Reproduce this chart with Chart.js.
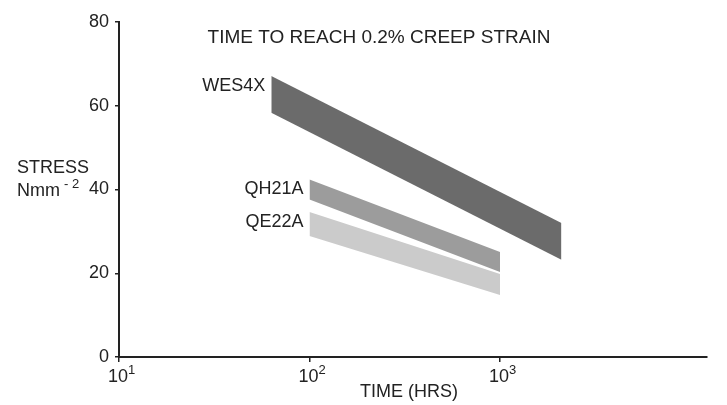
<!DOCTYPE html>
<html>
<head>
<meta charset="utf-8">
<script src="https://cdn.jsdelivr.net/npm/chart.js@4.4.0/dist/chart.umd.min.js"></script>
<style>
    html, body { margin: 0; padding: 0; background: #fff; }
    #wrap { width: 727px; height: 405px; }
</style>
</head>
<body>
<div id="wrap"><canvas id="creepChart" width="727" height="405"></canvas></div>
<script>
// Time (hrs) to reach 0.2% creep strain, band edges (stress, N/mm^2)
const wesTime = [63, 2100];
const wesUpper = [67.1, 32.0];
const wesLower = [58.3, 23.2];

const qhTime = [100, 1000];
const qhUpper = [42.4, 25.1];
const qhLower = [37.6, 20.3];

const qeTime = [100, 1000];
const qeUpper = [34.6, 19.8];
const qeLower = [28.9, 14.8];

const alloyNames = ["WES4X", "QH21A", "QE22A"];
const xTicks = [10, 100, 1000];
const yTicks = [0, 20, 40, 60, 80];

const FONT = "'Liberation Sans', Arial, sans-serif";
const INK = "#222";

function toPoints(xs, ys) {
    return xs.map((x, i) => ({ x: x, y: ys[i] }));
}

function bandPair(name, xs, lower, upper, color) {
    const base = {
        type: "line",
        borderWidth: 0,
        borderColor: color,
        pointRadius: 0,
        tension: 0,
    };
    return [
        Object.assign({}, base, { label: name + " lower", data: toPoints(xs, lower), fill: false }),
        Object.assign({}, base, { label: name, data: toPoints(xs, upper), fill: "-1", backgroundColor: color }),
    ];
}

// Texts drawn on top: title, axis names, power-of-ten labels, band labels
const annotations = {
    id: "annotations",
    afterDraw(chart) {
        const ctx = chart.ctx;
        const xs = chart.scales.x;
        const ys = chart.scales.y;
        ctx.save();
        ctx.fillStyle = INK;

        ctx.font = "19px " + FONT;
        ctx.textAlign = "center";
        ctx.textBaseline = "middle";
        ctx.fillText("TIME TO REACH 0.2% CREEP STRAIN", 379, 38);

        ctx.font = "18px " + FONT;
        ctx.fillText("TIME (HRS)", 409, 392);

        // x tick labels as 10 with raised exponent
        xTicks.forEach((v) => {
            const px = xs.getPixelForValue(v);
            ctx.font = "18px " + FONT;
            ctx.textAlign = "center";
            ctx.fillText("10", px - 1, 377);
            ctx.font = "13px " + FONT;
            ctx.textAlign = "left";
            ctx.fillText(String(Math.round(Math.log10(v))), px + 9, 370);
        });

        ctx.font = "18px " + FONT;
        ctx.textAlign = "left";
        ctx.fillText("STRESS", 17, 168);
        ctx.fillText("Nmm", 17, 191);
        const w = ctx.measureText("Nmm").width;
        ctx.font = "13px " + FONT;
        ctx.fillText("-", w + 21, 184);
        ctx.fillText("2", w + 29, 184);

        // band labels at the left edge of each band
        ctx.font = "18px " + FONT;
        ctx.textAlign = "right";
        const tops = [[wesTime[0], wesUpper[0]], [qhTime[0], qhUpper[0]], [qeTime[0], qeUpper[0]]];
        tops.forEach((p, i) => {
            const px = xs.getPixelForValue(p[0]);
            const py = ys.getPixelForValue(p[1]);
            ctx.fillText(alloyNames[i], px - 6, py + 10);
        });
        ctx.restore();
    },
};

const ctx = document.getElementById("creepChart").getContext("2d");
const creepChart = new Chart(ctx, {
    type: "line",
    data: {
        datasets: [].concat(
            bandPair("WES4X", wesTime, wesLower, wesUpper, "#6b6b6b"),
            bandPair("QH21A", qhTime, qhLower, qhUpper, "#9c9c9c"),
            bandPair("QE22A", qeTime, qeLower, qeUpper, "#cbcbcb")
        ),
    },
    options: {
        responsive: false,
        animation: false,
        layout: { padding: { top: 22, right: 20, left: 0, bottom: 0 } },
        plugins: {
            legend: { display: false },
            tooltip: { enabled: false },
        },
        scales: {
            x: {
                type: "logarithmic",
                min: 10,
                max: 12200,
                afterBuildTicks: (scale) => {
                    scale.ticks = xTicks.map((v) => ({ value: v }));
                },
                afterFit: (scale) => {
                    scale.height = 48;
                },
                border: { display: true, color: INK, width: 2 },
                grid: { drawOnChartArea: false, drawTicks: true, tickLength: 5, color: INK, lineWidth: 1.5 },
                ticks: { display: false },
            },
            y: {
                type: "linear",
                min: 0,
                max: 80,
                afterBuildTicks: (scale) => {
                    scale.ticks = yTicks.map((v) => ({ value: v }));
                },
                afterFit: (scale) => {
                    scale.width = 119;
                },
                border: { display: true, color: INK, width: 2 },
                grid: { drawOnChartArea: false, drawTicks: true, tickLength: 4, color: INK, lineWidth: 1.5 },
                ticks: {
                    color: INK,
                    font: { family: FONT, size: 18 },
                    padding: 6,
                },
            },
        },
    },
    plugins: [annotations],
});
</script>
</body>
</html>
